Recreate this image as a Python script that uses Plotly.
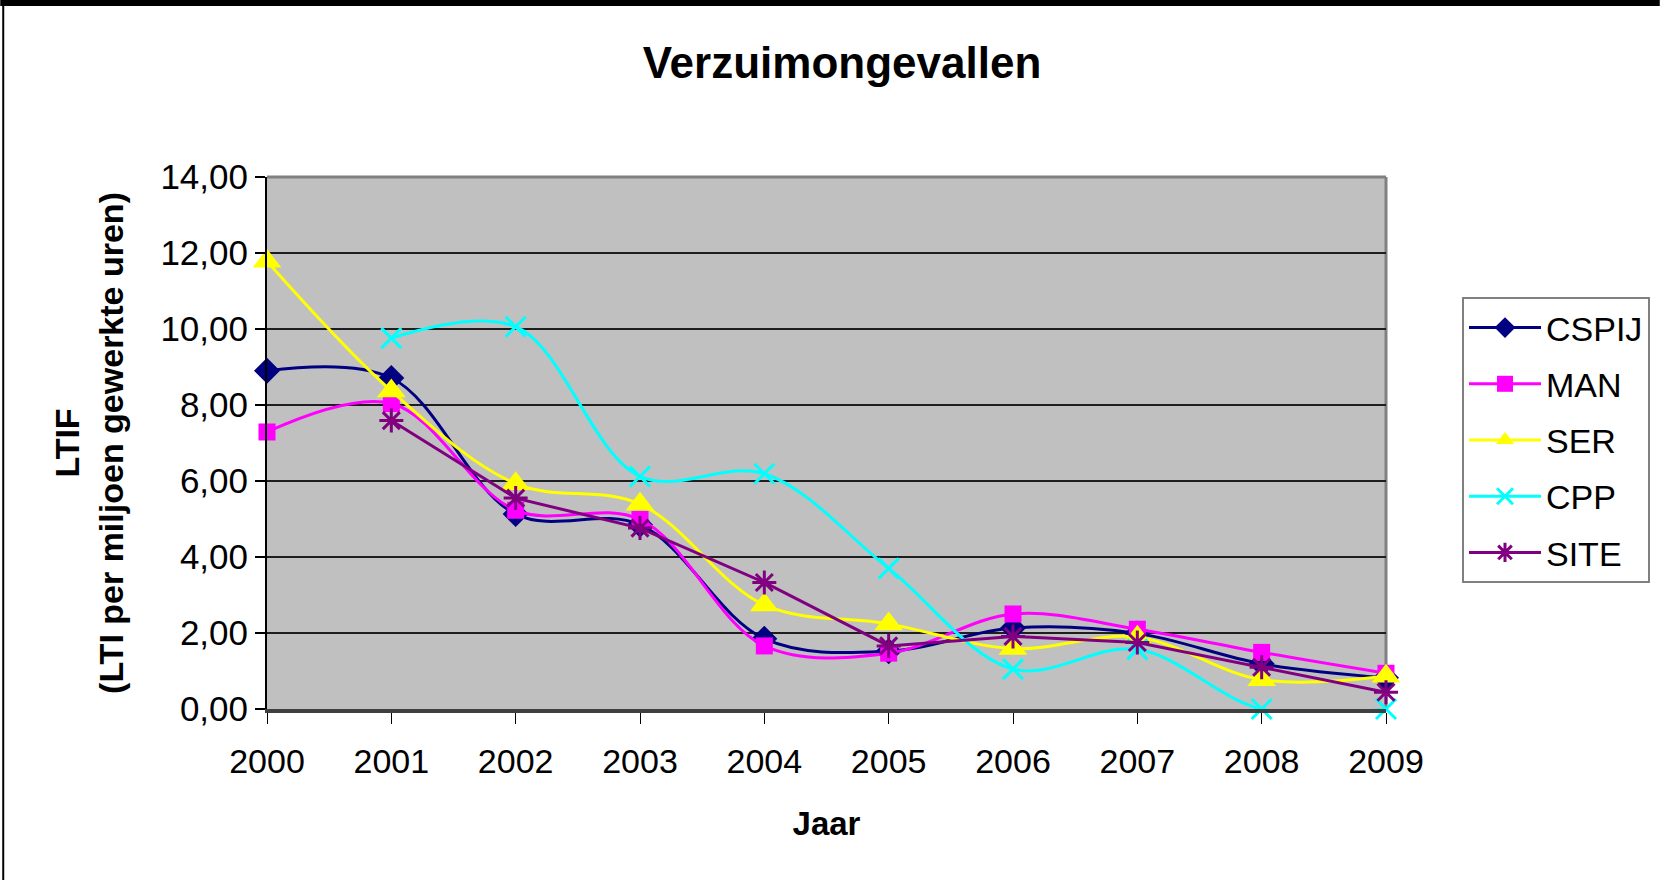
import plotly.graph_objects as go

years = [2000, 2001, 2002, 2003, 2004, 2005, 2006, 2007, 2008, 2009]
cspij = [8.90, 8.71, 5.13, 4.85, 1.85, 1.52, 2.13, 1.99, 1.19, 0.82]
man = [7.29, 8.04, 5.23, 4.99, 1.66, 1.47, 2.50, 2.10, 1.49, 0.94]
ser = [11.78, 8.37, 5.93, 5.39, 2.74, 2.24, 1.59, 1.89, 0.77, 0.86]
cpp = [None, 9.76, 10.06, 6.12, 6.19, 3.70, 1.05, 1.57, 0.00, 0.00]
site = [None, 7.59, 5.55, 4.76, 3.33, 1.66, 1.91, 1.75, 1.10, 0.44]

y_ticks = [0, 2, 4, 6, 8, 10, 12, 14]
y_tick_labels = ["0,00", "2,00", "4,00", "6,00", "8,00", "10,00", "12,00", "14,00"]
x_tick_labels = [str(y) for y in years]

FONT = "Liberation Sans, Arial, sans-serif"
W, H = 1661, 880
L, R, T, B = 267, 1387, 177, 709

def px(xc):
    return (xc - L) / (R - L)

def py(yc):
    return (B - yc) / (B - T)

series = [
    ("CSPIJ", cspij, "#000080", "diamond", 20, "spline", None),
    ("MAN", man, "#FF00FF", "square", 17, "spline", None),
    ("SER", ser, "#FFFF00", "triangle-up", 25, "spline", None),
    ("CPP", cpp, "#00FFFF", "x-thin-open", 20, "spline", 3),
    ("SITE", site, "#800080", "asterisk-open", 20, "linear", 3),
]

fig = go.Figure()
for name, vals, color, sym, size, shape, lw in series:
    marker = dict(symbol=sym, size=size, color=color)
    if lw:
        marker["line"] = dict(color=color, width=lw)
    else:
        marker["line"] = dict(width=0)
    fig.add_trace(go.Scatter(
        x=years, y=vals, name=name, legendgroup=name, mode="lines+markers",
        line=dict(color=color, width=3, shape=shape, smoothing=1.0),
        marker=marker, cliponaxis=False,
    ))

shapes = [
    dict(type="line", xref="paper", yref="paper", x0=0, x1=1, y0=1, y1=1,
         line=dict(color="#808080", width=3), layer="below"),
    dict(type="line", xref="paper", yref="paper", x0=1, x1=1, y0=0, y1=1,
         line=dict(color="#808080", width=3), layer="below"),
    dict(type="line", xref="paper", yref="paper", x0=px(0), x1=px(W), y0=py(2), y1=py(2),
         line=dict(color="black", width=8)),
    dict(type="line", xref="paper", yref="paper", x0=px(3), x1=px(3), y0=py(0), y1=py(H),
         line=dict(color="black", width=2)),
]

fig.update_layout(
    width=W, height=H,
    margin=dict(l=L, r=W - R, t=T, b=H - B),
    paper_bgcolor="white",
    plot_bgcolor="#C0C0C0",
    font=dict(family=FONT, size=34, color="black"),
    title=dict(text="<b>Verzuimongevallen</b>", x=842 / W, xanchor="center",
               y=1 - 63 / H, yanchor="middle",
               font=dict(family=FONT, size=44, color="black")),
    xaxis=dict(
        range=[2000, 2009], tickvals=years, ticktext=x_tick_labels,
        showgrid=False, zeroline=False,
        showline=True, linecolor="#404040", linewidth=4,
        ticks="outside", ticklen=11, tickwidth=1, tickcolor="black",
        ticklabelstandoff=8,
        tickfont=dict(family=FONT, size=34, color="black"),
        title=dict(text="<b>Jaar</b>", standoff=34,
                   font=dict(family=FONT, size=33, color="black")),
    ),
    yaxis=dict(
        range=[0, 14], tickvals=y_ticks, ticktext=y_tick_labels,
        showgrid=True, gridcolor="#1e1e1e", gridwidth=2, zeroline=False,
        showline=True, linecolor="black", linewidth=2,
        ticks="outside", ticklen=10, tickwidth=2, tickcolor="black",
        tickfont=dict(family=FONT, size=35, color="black"),
        title=dict(text="<b>LTIF<br>(LTI per miljoen gewerkte uren)</b>", standoff=26,
                   font=dict(family=FONT, size=34, color="black")),
    ),
    legend=dict(
        x=px(1462), y=py(297), xanchor="left", yanchor="top",
        bgcolor="white", bordercolor="#808080", borderwidth=2,
        font=dict(family=FONT, size=34, color="black"),
        itemwidth=72, tracegroupgap=9,
    ),
    shapes=shapes,
    showlegend=True,
)

fig.write_html("out.html", config={"displayModeBar": False},
               post_script="document.body.style.margin='0';")
